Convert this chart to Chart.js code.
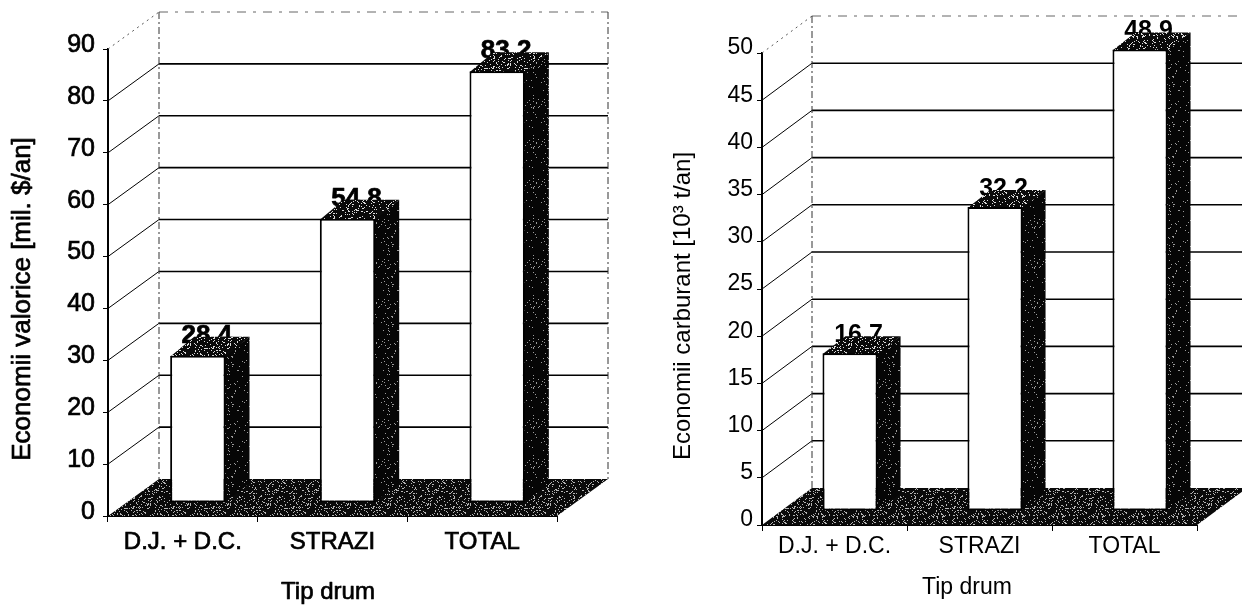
<!DOCTYPE html>
<html>
<head>
<meta charset="utf-8">
<script src="https://cdn.jsdelivr.net/npm/chart.js@4/dist/chart.umd.min.js"></script>
<style>
  html, body { margin: 0; padding: 0; background: #fff; }
  #wrap { position: relative; width: 1242px; height: 606px; overflow: hidden; background: #fff; }
  canvas { position: absolute; top: 0; }
  #valueChart { left: 0; }
  #fuelChart { left: 621px; }
</style>
</head>
<body>
<div id="wrap">
  <canvas id="valueChart" width="621" height="606"></canvas>
  <canvas id="fuelChart" width="621" height="606"></canvas>
</div>
<script>
// Road types
const categories = ['D.J. + D.C.', 'STRAZI', 'TOTAL'];

// Monetary savings [mil. $/an]
const valueSavings = [28.4, 54.8, 83.2];
const valueTicks = [0, 10, 20, 30, 40, 50, 60, 70, 80, 90];

// Fuel savings [10^3 t/an]
const fuelSavings = [16.7, 32.2, 48.9];
const fuelTicks = [0, 5, 10, 15, 20, 25, 30, 35, 40, 45, 50];

const xTitleText = 'Tip drum';
const valueTitleText = 'Economii valorice [mil. $/an]';
const fuelTitleText = 'Economii carburant [10\u00B3 t/an]';

const FONT = "'Liberation Sans', Arial, Helvetica, sans-serif";

// Stippled dark fill, like a halftone print
function stipple(density, base, dot) {
  const c = document.createElement('canvas');
  c.width = c.height = 40;
  const g = c.getContext('2d');
  g.fillStyle = base;
  g.fillRect(0, 0, 40, 40);
  g.fillStyle = dot;
  for (let i = 0; i < 40; i++) {
    for (let j = 0; j < 40; j++) {
      let h = (Math.imul(i + 1, 374761393) + Math.imul(j + 7, 668265263)) | 0;
      h = Math.imul(h ^ (h >>> 13), 1274126177);
      h = (h ^ (h >>> 16)) >>> 0;
      if (h % 1000 < density * 1000) g.fillRect(i, j, 1, 1);
    }
  }
  return g.createPattern(c, 'repeat');
}

function drawText(ctx, text, x, y, stroke) {
  if (stroke > 0) {
    ctx.lineWidth = stroke;
    ctx.strokeStyle = '#000';
    ctx.lineJoin = 'round';
    ctx.strokeText(text, x, y);
  }
  ctx.fillText(text, x, y);
}

// Draws the pseudo-3D box: back wall grid, side wall, floor, bar sides and tops,
// and shifts the bar fronts into depth.
const panel3d = {
  id: 'panel3d',
  beforeDatasetsDraw(chart, args, o) {
    const { ctx, chartArea: a } = chart;
    const ys = chart.scales.y;
    const [dx, dy] = o.depth;
    ctx.save();
    ys.ticks.forEach(t => {
      if (t.value === ys.min) return;
      const py = ys.getPixelForValue(t.value);
      const top = t.value === ys.max;
      ctx.beginPath();
      ctx.setLineDash(top ? [2, 4] : []);
      ctx.strokeStyle = top ? '#555' : '#000';
      ctx.lineWidth = 1;
      ctx.moveTo(a.left, py);
      ctx.lineTo(a.left + dx, py + dy);
      ctx.stroke();
      ctx.beginPath();
      ctx.setLineDash(top ? [9, 7, 3, 7] : []);
      ctx.strokeStyle = top ? '#666' : '#000';
      ctx.lineWidth = top ? 1 : 1.6;
      ctx.moveTo(a.left + dx, py + dy);
      ctx.lineTo(a.right + dx, py + dy);
      ctx.stroke();
    });
    // wall corner edges
    ctx.setLineDash([7, 3, 2, 3]);
    ctx.lineWidth = 1;
    ctx.strokeStyle = '#333';
    [a.left + dx, a.right + dx].forEach(px => {
      ctx.beginPath();
      ctx.moveTo(px, a.top + dy);
      ctx.lineTo(px, a.bottom + dy);
      ctx.stroke();
    });
    ctx.setLineDash([]);
    // floor
    ctx.beginPath();
    ctx.moveTo(a.left, a.bottom);
    ctx.lineTo(a.right, a.bottom);
    ctx.lineTo(a.right + dx, a.bottom + dy);
    ctx.lineTo(a.left + dx, a.bottom + dy);
    ctx.closePath();
    ctx.fillStyle = o.floorFill;
    ctx.fill();
    // bar side faces and value labels, then top faces over the label feet
    const [sx, sy] = o.shift;
    const [bx, by] = o.barDepth;
    const values = chart.data.datasets[0].data;
    chart.getDatasetMeta(0).data.forEach((bar, i) => {
      const p = bar.getProps(['x', 'y', 'base', 'width'], true);
      const L = p.x - p.width / 2 + sx, R = p.x + p.width / 2 + sx;
      const T = p.y + sy, B = p.base + sy;
      ctx.fillStyle = o.sideFill;
      ctx.beginPath();
      ctx.moveTo(R - 1, T);
      ctx.lineTo(R + bx, T + by);
      ctx.lineTo(R + bx, B + by);
      ctx.lineTo(R - 1, B);
      ctx.closePath();
      ctx.fill();
      ctx.save();
      ctx.fillStyle = '#000';
      ctx.font = 'bold ' + o.labelSize + 'px ' + FONT;
      ctx.textAlign = 'center';
      ctx.textBaseline = 'alphabetic';
      drawText(ctx, values[i].toFixed(1), p.x + sx + bx / 2 - 3, T + by + 6, o.textStroke);
      ctx.restore();
      ctx.fillStyle = o.topFill;
      ctx.beginPath();
      ctx.moveTo(L, T + 1);
      ctx.lineTo(R, T + 1);
      ctx.lineTo(R + bx, T + by);
      ctx.lineTo(L + bx, T + by);
      ctx.closePath();
      ctx.fill();
    });
    ctx.restore();
    ctx.save();
    ctx.translate(sx, sy);
  },
  afterDatasetsDraw(chart) {
    chart.ctx.restore();
  },
  afterDraw(chart, args, o) {
    const ctx = chart.ctx;
    ctx.save();
    ctx.fillStyle = '#000';
    ctx.textAlign = 'center';
    ctx.textBaseline = 'middle';
    ctx.font = o.yTitle.size + 'px ' + FONT;
    ctx.translate(o.yTitle.x, o.yTitle.y);
    ctx.rotate(-Math.PI / 2);
    drawText(ctx, o.yTitle.text, 0, 0, o.textStroke);
    ctx.restore();
    ctx.save();
    ctx.fillStyle = '#000';
    ctx.textAlign = 'center';
    ctx.textBaseline = 'middle';
    ctx.font = o.xTitle.size + 'px ' + FONT;
    drawText(ctx, o.xTitle.text, o.xTitle.x, o.xTitle.y, o.textStroke);
    ctx.restore();
  }
};

function makeChart(id, values, ticks, yTitle, st) {
  return new Chart(document.getElementById(id), {
    type: 'bar',
    data: {
      labels: categories,
      datasets: [{
        data: values,
        backgroundColor: '#fff',
        borderColor: '#000',
        borderWidth: 2,
        borderSkipped: false,
        barPercentage: st.barPct,
        categoryPercentage: 1,
        clip: false
      }]
    },
    options: {
      responsive: false,
      animation: false,
      events: [],
      layout: { padding: { left: 0, top: st.padTop, right: st.padRight, bottom: 0 } },
      scales: {
        x: {
          offset: true,
          grid: { display: true, drawOnChartArea: false, tickLength: 6, color: '#000', lineWidth: 1, offset: true },
          border: { display: true, color: '#000', width: 1 },
          ticks: {
            color: '#000', font: { family: FONT, size: st.xSize },
            textStrokeColor: '#000', textStrokeWidth: st.textStroke,
            padding: st.xPad, maxRotation: 0, minRotation: 0, autoSkip: false
          },
          afterFit: s => { s.height = st.xHeight; }
        },
        y: {
          min: ticks[0],
          max: ticks[ticks.length - 1],
          grid: { display: true, drawOnChartArea: false, tickLength: 5, color: '#000', lineWidth: 1 },
          border: { display: true, color: '#000', width: 2 },
          ticks: {
            color: '#000', font: { family: FONT, size: st.ySize },
            textStrokeColor: '#000', textStrokeWidth: st.textStroke,
            padding: st.yPad, labelOffset: st.yLabelOffset
          },
          afterBuildTicks: s => { s.ticks = ticks.map(v => ({ value: v })); },
          afterFit: s => { s.width = st.yWidth; }
        }
      },
      plugins: {
        legend: { display: false },
        tooltip: { enabled: false },
        panel3d: {
          depth: st.depth,
          shift: st.shift,
          barDepth: st.barDepth,
          labelSize: st.labelSize,
          textStroke: st.textStroke,
          floorFill: stipple(0.15, '#0a0a0a', '#b5b5b5'),
          sideFill: stipple(0.05, '#060606', '#9a9a9a'),
          topFill: stipple(0.14, '#0a0a0a', '#dcdcdc'),
          yTitle: { text: yTitle, x: st.yTitleX, y: st.yTitleY, size: st.yTitleSize },
          xTitle: { text: xTitleText, x: st.xTitleX, y: st.xTitleY, size: st.xTitleSize }
        }
      }
    },
    plugins: [panel3d]
  });
}

makeChart('valueChart', valueSavings, valueTicks, valueTitleText, {
  padTop: 49, padRight: 64, yWidth: 108, xHeight: 90,
  depth: [51, -37], shift: [15, -13], barDepth: [24, -19], barPct: 0.37,
  xSize: 24, xPad: 6, ySize: 25, yPad: 8, yLabelOffset: -4, labelSize: 26, textStroke: 0.7,
  yTitleX: 23, yTitleY: 299, yTitleSize: 26,
  xTitleX: 328, xTitleY: 592, xTitleSize: 24
});

makeChart('fuelChart', fuelSavings, fuelTicks, fuelTitleText, {
  padTop: 53, padRight: 45, yWidth: 141, xHeight: 81,
  depth: [50, -37], shift: [15.5, -14], barDepth: [23, -17], barPct: 0.38,
  xSize: 23, xPad: 2, ySize: 23, yPad: 4, yLabelOffset: -5, labelSize: 25, textStroke: 0,
  yTitleX: 62, yTitleY: 306, yTitleSize: 24,
  xTitleX: 346, xTitleY: 588, xTitleSize: 23
});
</script>
</body>
</html>
